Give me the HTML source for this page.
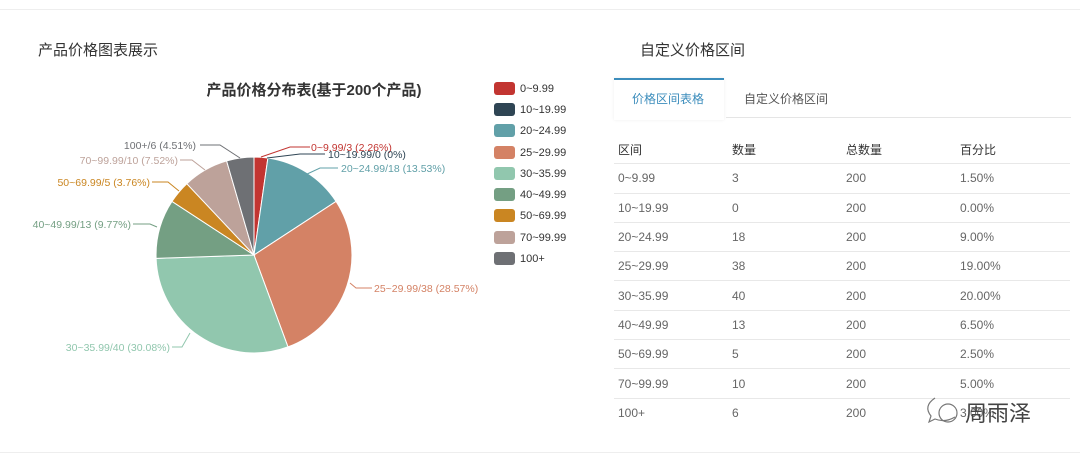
<!DOCTYPE html>
<html><head><meta charset="utf-8"><style>
body{margin:0;width:1080px;height:457px;background:#fff;font-family:"Liberation Sans","Noto Sans CJK SC",sans-serif;position:relative;overflow:hidden}
.t{position:absolute;font-size:15px;color:#333}
table{position:absolute;left:614px;top:135px;width:456px;border-collapse:collapse;font-size:12px;color:#666}
td{height:28.3px;border-bottom:1px solid #e8e8e8;padding:0 0 0 4px;vertical-align:middle}
tr:first-child td{color:#333}
</style></head><body>
<div style="position:absolute;left:0;top:9px;width:1080px;border-top:1px solid #eee"></div>
<div style="position:absolute;left:0;top:452px;width:1080px;border-top:1px solid #eee"></div>
<div class="t" style="left:38px;top:39px">产品价格图表展示</div>
<div class="t" style="left:640px;top:39px">自定义价格区间</div>
<div style="position:absolute;left:614px;top:78px;width:110px;height:40px;border-top:2px solid #3c8dbc;box-shadow:0 0 3px #eee"></div>
<div style="position:absolute;left:632px;top:90px;font-size:12px;color:#3c8dbc">价格区间表格</div>
<div style="position:absolute;left:744px;top:90px;font-size:12px;color:#555">自定义价格区间</div>
<div style="position:absolute;left:726px;top:117px;width:345px;border-top:1px solid #e5e5e5"></div>
<table>
<tr><td style="width:110px">区间</td><td style="width:110px">数量</td><td style="width:110px">总数量</td><td>百分比</td></tr>
<tr><td>0~9.99</td><td>3</td><td>200</td><td>1.50%</td></tr>
<tr><td>10~19.99</td><td>0</td><td>200</td><td>0.00%</td></tr>
<tr><td>20~24.99</td><td>18</td><td>200</td><td>9.00%</td></tr>
<tr><td>25~29.99</td><td>38</td><td>200</td><td>19.00%</td></tr>
<tr><td>30~35.99</td><td>40</td><td>200</td><td>20.00%</td></tr>
<tr><td>40~49.99</td><td>13</td><td>200</td><td>6.50%</td></tr>
<tr><td>50~69.99</td><td>5</td><td>200</td><td>2.50%</td></tr>
<tr><td>70~99.99</td><td>10</td><td>200</td><td>5.00%</td></tr>
<tr><td style="border:none">100+</td><td style="border:none">6</td><td style="border:none">200</td><td style="border:none">3.00%</td></tr>
</table>
<div style="position:absolute;left:965px;top:396px;font-size:22px;color:#444">周雨泽</div>
<svg width="1080" height="457" style="position:absolute;left:0;top:0" font-family="Liberation Sans,Noto Sans CJK SC,sans-serif">
<text x="314" y="95" font-size="15" font-weight="bold" fill="#333" text-anchor="middle">产品价格分布表(基于200个产品)</text>
<g stroke="#fff" stroke-width="1">
<path d="M254 255 L254 157 A98 98 0 0 1 267.9 158 Z" fill="#c23531"/>
<path d="M254 255 L267.9 158 A98 98 0 0 1 336 201.4 Z" fill="#61a0a8"/>
<path d="M254 255 L336 201.4 A98 98 0 0 1 288 346.9 Z" fill="#d48265"/>
<path d="M254 255 L288 346.9 A98 98 0 0 1 156.1 258.4 Z" fill="#91c7ae"/>
<path d="M254 255 L156.1 258.4 A98 98 0 0 1 172 201.4 Z" fill="#749f83"/>
<path d="M254 255 L172 201.4 A98 98 0 0 1 186.8 183.7 Z" fill="#ca8622"/>
<path d="M254 255 L186.8 183.7 A98 98 0 0 1 226.6 160.9 Z" fill="#bda29a"/>
<path d="M254 255 L226.6 160.9 A98 98 0 0 1 254 157 Z" fill="#6e7074"/>
</g>
<g fill="none" stroke-width="1">
<polyline points="261,157 290,147 310,147" stroke="#c23531"/>
<polyline points="267,158 300,154 325,154" stroke="#2f4554"/>
<polyline points="305,175 320,168 338,168" stroke="#61a0a8"/>
<polyline points="350,283 356,288 372,288" stroke="#d48265"/>
<polyline points="190,333 182,347 172,347" stroke="#91c7ae"/>
<polyline points="157,227 150,224 133,224" stroke="#749f83"/>
<polyline points="179,191 168,182 152,182" stroke="#ca8622"/>
<polyline points="205,170 192,160 180,160" stroke="#bda29a"/>
<polyline points="240,158 220,145 200,145" stroke="#6e7074"/>
</g>
<g font-size="10.5">
<text x="311" y="151" fill="#c23531">0~9.99/3 (2.26%)</text>
<text x="328" y="158" fill="#2f4554">10~19.99/0 (0%)</text>
<text x="341" y="172" fill="#61a0a8">20~24.99/18 (13.53%)</text>
<text x="374" y="292" fill="#d48265">25~29.99/38 (28.57%)</text>
<text x="170" y="351" fill="#91c7ae" text-anchor="end">30~35.99/40 (30.08%)</text>
<text x="131" y="228" fill="#749f83" text-anchor="end">40~49.99/13 (9.77%)</text>
<text x="150" y="186" fill="#ca8622" text-anchor="end">50~69.99/5 (3.76%)</text>
<text x="178" y="164" fill="#bda29a" text-anchor="end">70~99.99/10 (7.52%)</text>
<text x="196" y="149" fill="#6e7074" text-anchor="end">100+/6 (4.51%)</text>
</g>
<g font-size="11" fill="#333">
<rect x="494" y="82" width="21" height="13" rx="3" fill="#c23531"/><text x="520" y="92">0~9.99</text>
<rect x="494" y="103" width="21" height="13" rx="3" fill="#2f4554"/><text x="520" y="113">10~19.99</text>
<rect x="494" y="124" width="21" height="13" rx="3" fill="#61a0a8"/><text x="520" y="134">20~24.99</text>
<rect x="494" y="146" width="21" height="13" rx="3" fill="#d48265"/><text x="520" y="156">25~29.99</text>
<rect x="494" y="167" width="21" height="13" rx="3" fill="#91c7ae"/><text x="520" y="177">30~35.99</text>
<rect x="494" y="188" width="21" height="13" rx="3" fill="#749f83"/><text x="520" y="198">40~49.99</text>
<rect x="494" y="209" width="21" height="13" rx="3" fill="#ca8622"/><text x="520" y="219">50~69.99</text>
<rect x="494" y="231" width="21" height="13" rx="3" fill="#bda29a"/><text x="520" y="241">70~99.99</text>
<rect x="494" y="252" width="21" height="13" rx="3" fill="#6e7074"/><text x="520" y="262">100+</text>
</g>
<g fill="none" stroke="#777" stroke-width="1.2">
<path d="M935 398 q-12 8 -4 18 l-2 6 l6 -3 q10 4 20 -2"/>
<circle cx="948" cy="413" r="9"/>
</g>
</svg>
</body></html>
